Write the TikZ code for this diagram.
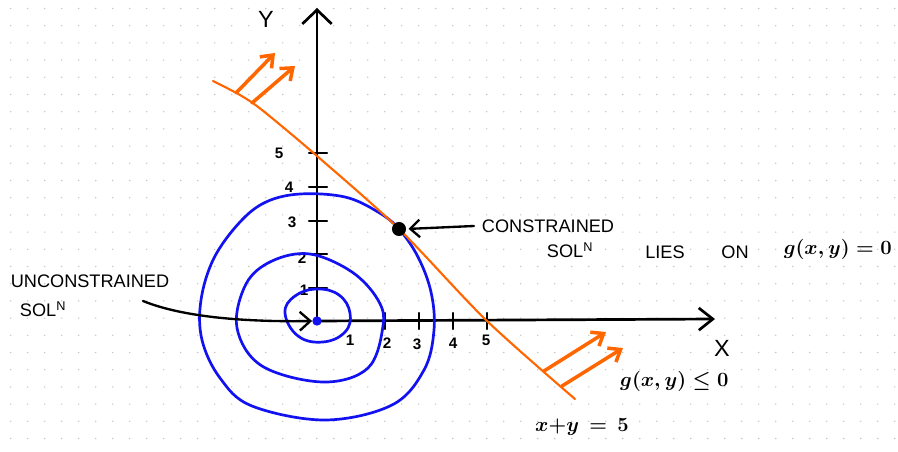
\documentclass[tikz,border=0pt]{standalone}
\usepackage{fontspec}
\setmainfont{Liberation Sans}
\usepackage{xcolor}
\usepackage{tikz}
\usetikzlibrary{arrows.meta}
\definecolor{penorange}{RGB}{255,102,0}
\definecolor{penblue}{RGB}{18,18,240}
\newcommand{\soln}{SOL\textsuperscript{N}}

\begin{document}
\begin{tikzpicture}[x=0.03cm, y=-0.03cm,
    axis/.style={draw=black, line width=2.3pt, line cap=round},
    contour/.style={draw=penblue, line width=2.3pt, line cap=round},
    bound/.style={draw=penorange, line width=1.8pt, line cap=round},
    feasible/.style={draw=penorange, line width=3pt, line cap=round, -{Straight Barb[length=9pt,width=14pt]}},
    ticklbl/.style={font=\fontsize{13}{15}\selectfont\bfseries, inner sep=0pt},
    axlbl/.style={font=\fontsize{20}{22}\selectfont, inner sep=0pt},
    note/.style={font=\fontsize{15.5}{17}\selectfont, inner sep=0pt},
    mathlbl/.style={font=\fontsize{18}{21}\selectfont\boldmath, inner sep=0pt}
]
\useasboundingbox (0,0) rectangle (898,452);
\fill[white] (0,0) rectangle (898,452);

% dotted paper
\foreach \i in {0,...,52}
  \foreach \j in {0,...,25}
    \fill[black!22] (10.7+17*\i, 8.5+17.2*\j) circle (0.8);

% axes
\coordinate (O) at (317,321);
\coordinate (xend) at (715,319);
\coordinate (yend) at (317,8);
\draw[axis, -{Straight Barb[length=12pt,width=19pt]}] (O) -- (xend);
\draw[axis, -{Straight Barb[length=12pt,width=25pt]}] (O) -- (yend);
\node[axlbl] (ylbl) at (266,19) {Y};
\node[axlbl] (xlbl) at (722,348) {X};

% ticks
\foreach \t/\n in {385/2,419/3,453/4,487/5}
  \draw[axis, line width=1.8pt] (\t,313) -- (\t,329);
\foreach \t in {153,187,221,254,288}
  \draw[axis, line width=1.8pt] (309,\t) -- (327,\t);

\node[ticklbl] (x1) at (350,340) {1};
\node[ticklbl] (x2) at (387,343) {2};
\node[ticklbl] (x3) at (417,344) {3};
\node[ticklbl] (x4) at (453,343) {4};
\node[ticklbl] (x5) at (486,340) {5};
\node[ticklbl] (y5) at (279,153) {5};
\node[ticklbl] (y4) at (289,187) {4};
\node[ticklbl] (y3) at (292,222) {3};
\node[ticklbl] (y2) at (302,258) {2};
\node[ticklbl] (y1) at (304,290) {1};

% level sets
\draw[contour] plot[smooth cycle, tension=0.6] coordinates {
  (300,194) (345,197) (378,212) (399,229) (418,257) (431,292) (434,330)
  (424,370) (392,405) (325,420) (252,406) (220,378) (202,340) (201,300)
  (214,258) (240,222) (266,202)};
\draw[contour] plot[smooth cycle, tension=0.6] coordinates {
  (310,254) (352,272) (378,300) (383,326) (368,368) (323,382) (262,366)
  (237,328) (246,284) (272,261)};
\draw[contour] plot[smooth cycle, tension=0.7] coordinates {
  (317,289) (339,295) (350,313) (345,332) (323,342) (298,336) (285,313) (295,296)};

% constraint line
\draw[bound] plot[smooth, tension=0.5] coordinates {
  (213,81) (240,95) (262,110) (317,156) (399,229) (486,320) (575,399)};
\draw[feasible] (236,93) -- (275,53);
\draw[feasible] (252,103) -- (295,66);
\draw[feasible] (544,371) -- (606,332);
\draw[feasible] (562,386) -- (623,348);

% solutions
\node[circle, fill=black, inner sep=0pt, minimum size=12pt] (csol) at (399,229) {};
\node[circle, fill=penblue, inner sep=0pt, minimum size=8pt] (usol) at (317,321) {};
\coordinate (cstart) at (474,226);
\coordinate (ustart) at (143,301);
\draw[axis, line width=2pt, -{Straight Barb[length=8pt,width=15pt]}, shorten >=2pt] (cstart) -- (csol.east);
\draw[axis, line width=2pt, -{Straight Barb[length=9pt,width=16pt]}]
  (ustart) .. controls (185,318) and (250,322) .. (usol.west);

% labels
\node[note] (uncon) at (90,281) {UNCONSTRAINED};
\node[note] (usoln) at (43,309) {\soln};
\node[note] (con) at (548,226) {CONSTRAINED};
\node[note] (csoln) at (570,250) {\soln};
\node[note] (lies) at (665,252) {LIES};
\node[note] (on) at (735,252) {ON};
\node[mathlbl, anchor=east] (geq) at (892,249) {$g(x,y)=0$};
\node[mathlbl, anchor=west] (gle) at (620,381) {$g(x,y)\leq 0$};
\node[mathlbl, anchor=west] (line) at (535,427) {$x{+}y\,=\,5$};
\end{tikzpicture}
\end{document}
